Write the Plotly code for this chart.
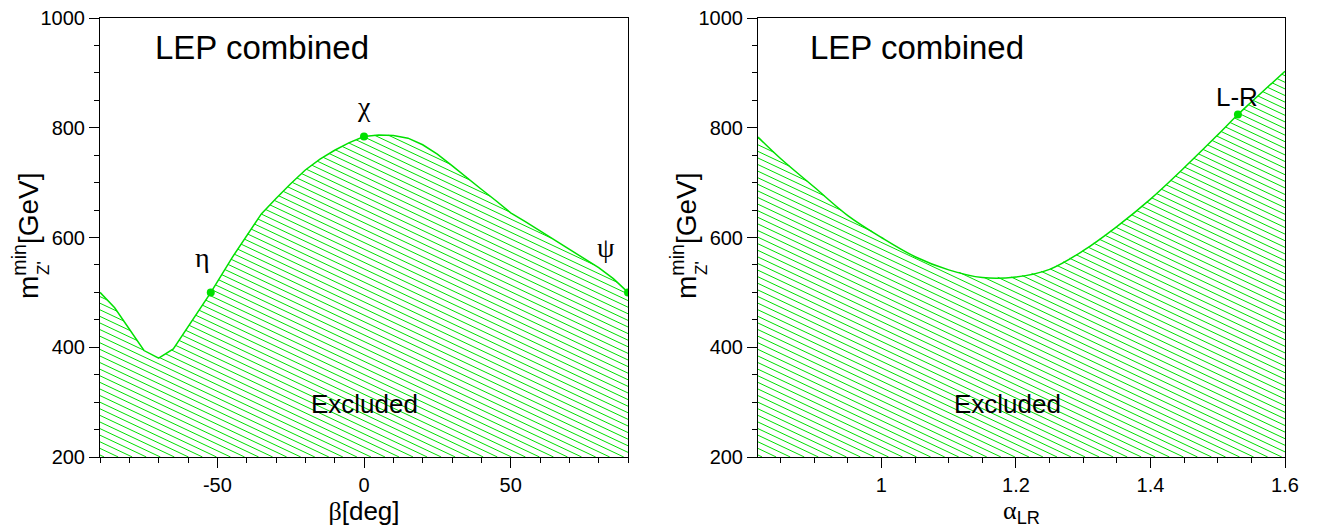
import numpy as np
import plotly.graph_objects as go
from plotly.subplots import make_subplots

# ---- data ----
beta_deg = [-90, -85, -75, -70, -65, -60, -52.2, -45, -40, -35, -30, -25, -20, -15,
            -10, -5, 0, 5, 10, 15, 20, 25, 30, 35, 40, 45, 50, 55, 60, 65, 70, 75,
            80, 85, 90]
mz_beta = [500, 472, 394, 380, 397, 437, 500, 563, 604, 643, 671, 698, 723, 743,
           759, 773, 784, 787, 786, 781, 769, 752, 731, 709, 688, 667, 645, 629,
           612, 595, 578, 562, 545, 525, 500]

alpha_lr = [0.8165, 0.85, 0.9, 0.95, 1.0, 1.05, 1.1, 1.15, 1.2, 1.25, 1.3, 1.35,
            1.4, 1.45, 1.5, 1.53, 1.55, 1.6]
mz_alpha = [783, 744, 692, 640, 600, 565, 541, 527, 528, 542, 576, 620,
            670, 727, 787, 824, 847, 903]

model_names_beta = ["η", "χ", "ψ"]
model_beta = [-52.24, 0.0, 90.0]
model_mz_beta = [500, 784, 500]

model_names_alpha = ["L-R"]
model_alpha = [1.53]
model_mz_alpha = [824]

ymin, ymax = 200, 1000
xr_left = [-90, 90]
xr_right = [0.8165, 1.6]

GREEN = "#00e000"
FONT = "Liberation Sans, Arial, sans-serif"
SERIF = "Liberation Serif, Times New Roman, serif"

# page has an 8px body margin; size the figure so the plot areas land where the reference's are
OFF = 8
W, H = 1310, 523
ML, MR, MT, MB = 92, 33, 10, 74
plot_w_total = W - ML - MR
plot_h = H - MT - MB
X0 = OFF + ML          # page x of paper 0
Y1 = OFF + H - MB      # page y of paper 0 (bottom)
dom_left = [0, (628 - X0) / plot_w_total]
dom_right = [(758 - X0) / plot_w_total, 1]


def px2paper_x(px):
    return (px - X0) / plot_w_total


def px2paper_y(py):
    return (Y1 - py) / plot_h


def hatch(xs_curve, ys_curve, xr, dom):
    pw = (dom[1] - dom[0]) * plot_w_total
    px_x = pw / (xr[1] - xr[0])
    px_y = plot_h / (ymax - ymin)
    slope_px = 0.47
    k = slope_px * px_x / px_y
    dy = 6.6 / px_y
    xf = np.linspace(xr[0], xr[1], 6000)
    cf = np.interp(xf, xs_curve, ys_curve)
    hx, hy = [], []
    b = ymin + dy * 0.3
    bmax = ymax + k * (xr[1] - xr[0])
    while b < bmax:
        yl = b - k * (xf - xr[0])
        inside = (yl >= ymin) & (yl <= cf)
        if inside.any():
            idx = np.flatnonzero(inside)
            breaks = np.flatnonzero(np.diff(idx) > 1)
            starts = np.concatenate(([idx[0]], idx[breaks + 1]))
            ends = np.concatenate((idx[breaks], [idx[-1]]))
            for s, e in zip(starts, ends):
                hx += [xf[s], xf[e], None]
                hy += [yl[s], yl[e], None]
        b += dy
    return hx, hy


fig = make_subplots(rows=1, cols=2)

# left panel
hx, hy = hatch(beta_deg, mz_beta, xr_left, dom_left)
fig.add_trace(go.Scatter(x=hx, y=hy, mode="lines", line=dict(color=GREEN, width=1),
                         hoverinfo="skip", showlegend=False), row=1, col=1)
fig.add_trace(go.Scatter(x=beta_deg, y=mz_beta, mode="lines",
                         line=dict(color=GREEN, width=1.5), showlegend=False),
              row=1, col=1)
fig.add_trace(go.Scatter(x=model_beta, y=model_mz_beta, mode="markers",
                         marker=dict(color=GREEN, size=8), showlegend=False),
              row=1, col=1)

# right panel
hx, hy = hatch(alpha_lr, mz_alpha, xr_right, dom_right)
fig.add_trace(go.Scatter(x=hx, y=hy, mode="lines", line=dict(color=GREEN, width=1),
                         hoverinfo="skip", showlegend=False), row=1, col=2)
fig.add_trace(go.Scatter(x=alpha_lr, y=mz_alpha, mode="lines",
                         line=dict(color=GREEN, width=1.5, shape="spline"),
                         showlegend=False), row=1, col=2)
fig.add_trace(go.Scatter(x=model_alpha, y=model_mz_alpha, mode="markers",
                         marker=dict(color=GREEN, size=8), showlegend=False),
              row=1, col=2)

axis_common = dict(showgrid=False, zeroline=False, showline=True, linecolor="black",
                   linewidth=1, mirror=True, ticks="outside", ticklen=10,
                   tickcolor="black", ticklabeloverflow="allow", automargin=False,
                   tickfont=dict(size=20, color="black", family=FONT))
title_font = dict(size=26, family=FONT, color="black")

fig.update_xaxes(range=xr_left, domain=dom_left, tickvals=[-50, 0, 50],
                 ticktext=["-50", "0", "50"],
                 minor=dict(tick0=-90, dtick=10, ticks="outside", ticklen=5, tickcolor="black"),
                 title=dict(text=f"<span style='font-family:{SERIF}'>β</span>[deg]",
                            font=title_font, standoff=2),
                 **axis_common, row=1, col=1)
fig.update_xaxes(range=xr_right, domain=dom_right, tickvals=[1, 1.2, 1.4, 1.6],
                 ticktext=["1", "1.2", "1.4", "1.6"],
                 minor=dict(tick0=0.8, dtick=0.05, ticks="outside", ticklen=5, tickcolor="black"),
                 title=dict(text=f"<span style='font-family:{SERIF}'>α</span><sub>LR</sub>",
                            font=title_font, standoff=2),
                 **axis_common, row=1, col=2)
for c in (1, 2):
    fig.update_yaxes(range=[ymin, ymax], tickvals=[200, 400, 600, 800, 1000],
                     ticktext=["200", "400", "600", "800", "1000"],
                     minor=dict(tick0=200, dtick=50, ticks="outside", ticklen=5, tickcolor="black"),
                     **axis_common, row=1, col=c)

ann = []
# y-axis titles (stacked super/subscript built from two texts)
for xpix in (26, 684):
    ann.append(dict(text="m<sup>min</sup>[GeV]", textangle=-90, xref="paper", yref="paper",
                    x=px2paper_x(xpix), y=px2paper_y(236), showarrow=False,
                    font=dict(size=28, family=FONT, color="black"),
                    xanchor="center", yanchor="middle"))
    ann.append(dict(text="Z'", textangle=-90, xref="paper", yref="paper",
                    x=px2paper_x(xpix + 17), y=px2paper_y(268), showarrow=False,
                    font=dict(size=17, family=FONT, color="black"),
                    xanchor="center", yanchor="middle"))

# in-plot labels
ann += [
    dict(text="LEP combined", x=-34.8, y=947, xref="x", yref="y", showarrow=False,
         font=dict(size=33, family=FONT, color="black")),
    dict(text="LEP combined", x=1.053, y=947, xref="x2", yref="y2", showarrow=False,
         font=dict(size=33, family=FONT, color="black")),
    dict(text="Excluded", x=0, y=297, xref="x", yref="y", showarrow=False,
         font=dict(size=26, family=FONT, color="black")),
    dict(text="Excluded", x=1.188, y=297, xref="x2", yref="y2", showarrow=False,
         font=dict(size=26, family=FONT, color="black")),
    dict(text=model_names_alpha[0], x=1.528, y=856, xref="x2", yref="y2", showarrow=False,
         font=dict(size=26, family=FONT, color="black")),
]
label_pos_beta = [(-55.2, 563), (0, 838), (82.5, 581)]
for name, (lx, ly) in zip(model_names_beta, label_pos_beta):
    ann.append(dict(text=name, x=lx, y=ly, xref="x", yref="y", showarrow=False,
                    font=dict(size=28, family=SERIF, color="black")))

fig.update_layout(width=W, height=H, margin=dict(l=ML, r=MR, t=MT, b=MB, autoexpand=False),
                  plot_bgcolor="white", paper_bgcolor="white", annotations=ann,
                  font=dict(family=FONT, color="black"))

fig.write_html("out.html")
